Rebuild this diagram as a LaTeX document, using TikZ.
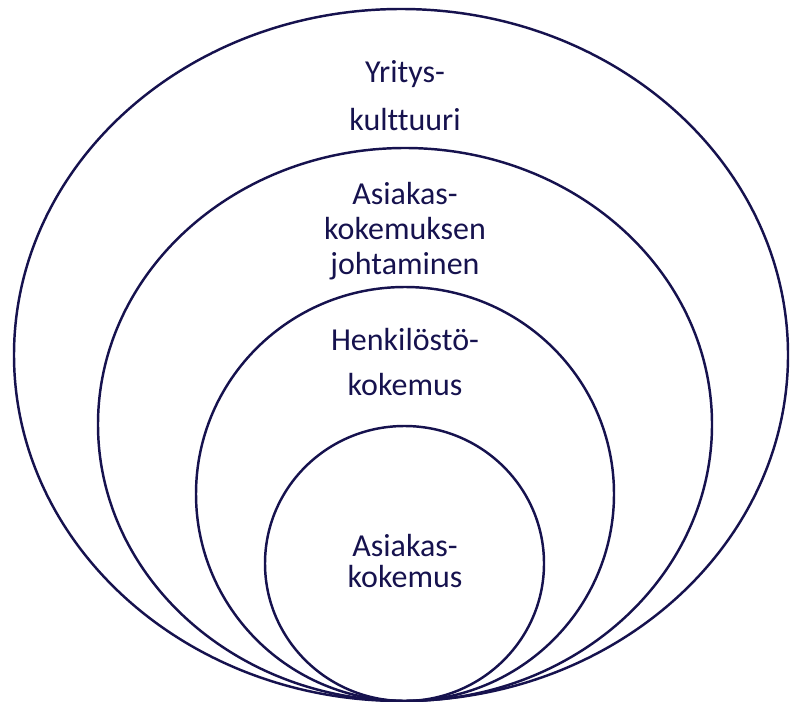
\documentclass[tikz,border=0pt]{standalone}
\usepackage{fontspec}
\setmainfont{Carlito}[Ligatures=CommonOff]
\definecolor{navy}{RGB}{22,18,78}

\begin{document}
\begin{tikzpicture}[x=0.02cm, y=-0.02cm,
  ring/.style={draw=navy, line width=1.4pt},
  every node/.style={text=navy, align=center, font=\fontsize{18.2}{17.2}\selectfont}]
			\useasboundingbox (0,0) rectangle (790,702);
			
			\draw[ring] (401,355) ellipse (387 and 346);
			\draw[ring] (405,424.5) ellipse (307 and 276.5);
			\draw[ring] (405,494) ellipse (209 and 207);
			\draw[ring] (404.5,563.5) ellipse (139.5 and 137.5);
			
			\node (kulttuuri) at (405,96){Yritys-\\[10pt]kulttuuri};
			\node (johtaminen) at (405,231){Asiakas-\\[2.8pt]kokemuksen\\[2.8pt]johtaminen};
			\node (henkilosto) at (405,362){Henkilöstö-\\[8.2pt]kokemus};
			\node (asiakas) at (405,561){Asiakas-\\kokemus};
			\end{tikzpicture}
\end{document}
